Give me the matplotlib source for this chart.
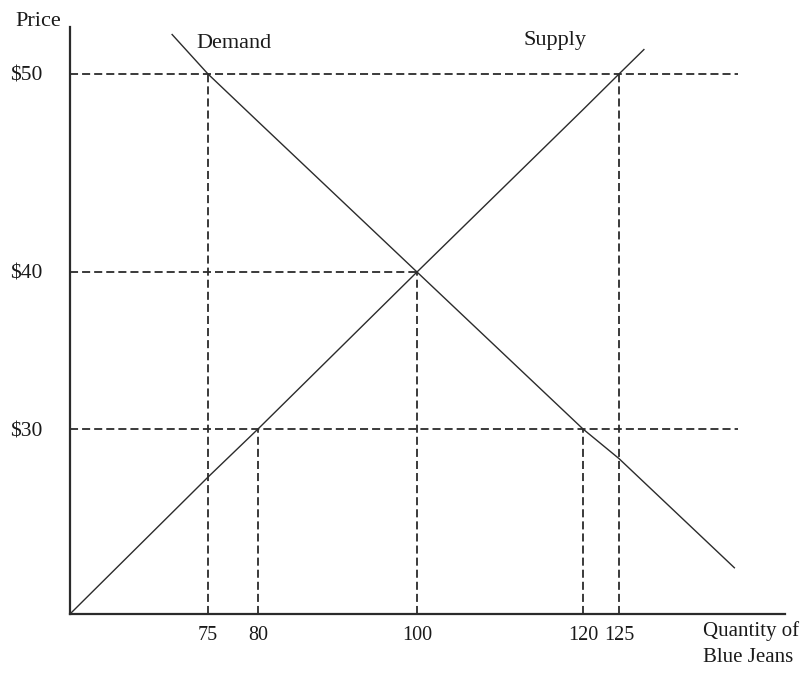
import numpy as np
import matplotlib
matplotlib.use("Agg")
import matplotlib.pyplot as plt

# labelled quantities / prices on the axes
quantity_ticks = [75, 80, 100, 120, 125]
price_ticks = [30, 40, 50]
price_labels = ["$30", "$40", "$50"]

# supply and demand at each labelled quantity (plus line ends)
supply_q = [60, 75, 80, 100, 120, 125, 128]
supply_p = [20, 27.4, 30, 40, 48.2, 50, 51.3]
demand_q = [71.1, 75, 80, 100, 120, 125, 138.9]
demand_p = [52.1, 50, 47.6, 40, 30, 28.4, 22.5]

# dashed guide lines
hline_p = [50, 40, 30]
hline_q_end = [139.3, 100, 139.3]
vline_q = [75, 80, 100, 120, 125]
vline_p_end = [50, 30, 40, 30, 50]

# the sketch is not drawn to scale: piecewise mapping value -> position along axis
x_knot_val = [0, 60, 75, 80, 100, 120, 125, 145, 300]
x_knot_pos = [-552, 0, 138, 188, 347, 513, 549, 715, 2001]
y_knot_val = [0, 20, 30, 40, 50, 52.5, 100]
y_knot_pos = [-370, 0, 185, 342, 540, 587, 1480]


def fwd_x(v):
    return np.interp(v, x_knot_val, x_knot_pos)


def inv_x(v):
    return np.interp(v, x_knot_pos, x_knot_val)


def fwd_y(v):
    return np.interp(v, y_knot_val, y_knot_pos)


def inv_y(v):
    return np.interp(v, y_knot_pos, y_knot_val)


plt.rcParams["font.family"] = ["Liberation Serif", "DejaVu Serif"]
plt.rcParams["lines.scale_dashes"] = False

ink = "#2b2b2b"
txt = "#1a1a1a"
dash = (0, (5.8, 2.9))

fig = plt.figure(figsize=(8.12, 6.79), dpi=100)
ax = fig.add_axes([70 / 812, 65 / 679, 715 / 812, 587 / 679])
ax.set_xscale("function", functions=(fwd_x, inv_x))
ax.set_yscale("function", functions=(fwd_y, inv_y))
ax.set_xlim(60, 145)
ax.set_ylim(20, 52.5)

# guide lines
ax.hlines(hline_p, 60, hline_q_end, colors=ink, linestyles=dash, linewidth=1.3)
ax.vlines(vline_q, 20, vline_p_end, colors=ink, linestyles=dash, linewidth=1.3)

# curves
ax.plot(supply_q, supply_p, color=ink, linewidth=1.0, clip_on=False)
ax.plot(demand_q, demand_p, color=ink, linewidth=1.0, clip_on=False)

ax.set_xticks(quantity_ticks)
ax.set_xticklabels([str(q) for q in quantity_ticks])
ax.set_yticks(price_ticks)
ax.set_yticklabels(price_labels)
ax.minorticks_off()
ax.tick_params(axis="x", length=0, pad=9, labelsize=14.5, colors=txt)
ax.tick_params(axis="y", length=0, pad=20, labelsize=15.5, colors=txt)

for side in ["top", "right"]:
    ax.spines[side].set_visible(False)
for side in ["left", "bottom"]:
    ax.spines[side].set_linewidth(1.6)
    ax.spines[side].set_color(ink)

fig.text(38 / 812, 1 - 22 / 679, "Price", ha="center", va="center", fontsize=16, color=txt)
fig.text(196 / 812, 1 - 44 / 679, "Demand", ha="left", va="center", fontsize=16, color=txt)
fig.text(524 / 812, 1 - 40 / 679, "Supply", ha="left", va="center", fontsize=16, color=txt)
fig.text(703 / 812, 1 - 644 / 679, "Quantity of\nBlue Jeans", ha="left", va="center",
         multialignment="left", fontsize=15, linespacing=1.55, color=txt)

fig.savefig("out.png", dpi=100, facecolor="white")
